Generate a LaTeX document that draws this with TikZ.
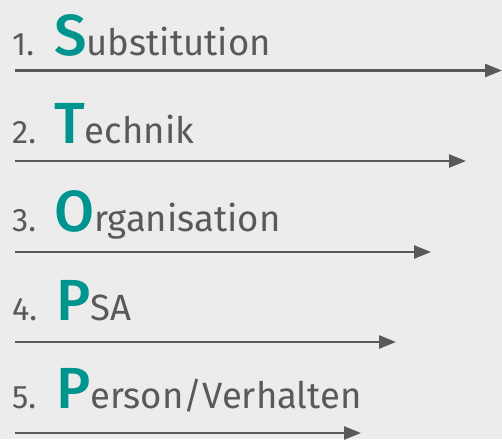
\documentclass[tikz,border=0pt]{standalone}
\usepackage{fontspec}
\setmainfont{Fira Sans}
\newfontfamily\leadfont{Fira Sans Medium}
\usetikzlibrary{arrows.meta}
\definecolor{bgcol}{HTML}{ECECEC}
\definecolor{inkcol}{HTML}{595959}
\definecolor{tealcol}{HTML}{00948F}
\begin{document}
\begin{tikzpicture}[x=1pt,y=-1pt,
  numtext/.style={anchor=base west,inner sep=0pt,text=inkcol,
    font=\fontsize{32.5}{32.5}\selectfont},
  steptext/.style={anchor=base west,inner sep=0pt,text=inkcol,
    font=\fontsize{36.5}{36.5}\selectfont},
  stepline/.style={draw=inkcol,line width=2.5pt,
    -{Triangle[length=17pt,width=13pt]}}]
  \newcommand{\lead}[1]{{\leadfont\fontsize{58}{58}\selectfont\color{tealcol}#1}}
  \fill[bgcol] (0,0) rectangle (502,439);
  \useasboundingbox (0,0) rectangle (502,439);
  % list entries
  \node[numtext] (n1) at (12,55) {1.};
  \node[steptext] (w1) at (54,55) {\lead{S}ubstitution};
  \node[numtext] (n2) at (12,143) {2.};
  \node[steptext] (w2) at (54,143) {\lead{T}echnik};
  \node[numtext] (n3) at (12,231) {3.};
  \node[steptext] (w3) at (54,231) {\lead{O}rganisation};
  \node[numtext] (n4) at (12,320) {4.};
  \node[steptext] (w4) at (56,320) {\lead{P}SA};
  \node[numtext] (n5) at (12,408) {5.};
  \node[steptext] (w5) at (56,408) {\lead{P}erson/Verhalten};
  % arrows, shortening step by step
  \coordinate (a1) at (15,70.5);  \coordinate (b1) at (502,70.5);
  \coordinate (a2) at (15,161);   \coordinate (b2) at (466,161);
  \coordinate (a3) at (15,252);   \coordinate (b3) at (431,252);
  \coordinate (a4) at (15,342);   \coordinate (b4) at (396,342);
  \coordinate (a5) at (15,433);   \coordinate (b5) at (361,433);
  \draw[stepline] (a1) -- (b1);
  \draw[stepline] (a2) -- (b2);
  \draw[stepline] (a3) -- (b3);
  \draw[stepline] (a4) -- (b4);
  \draw[stepline] (a5) -- (b5);
\end{tikzpicture}
\end{document}
